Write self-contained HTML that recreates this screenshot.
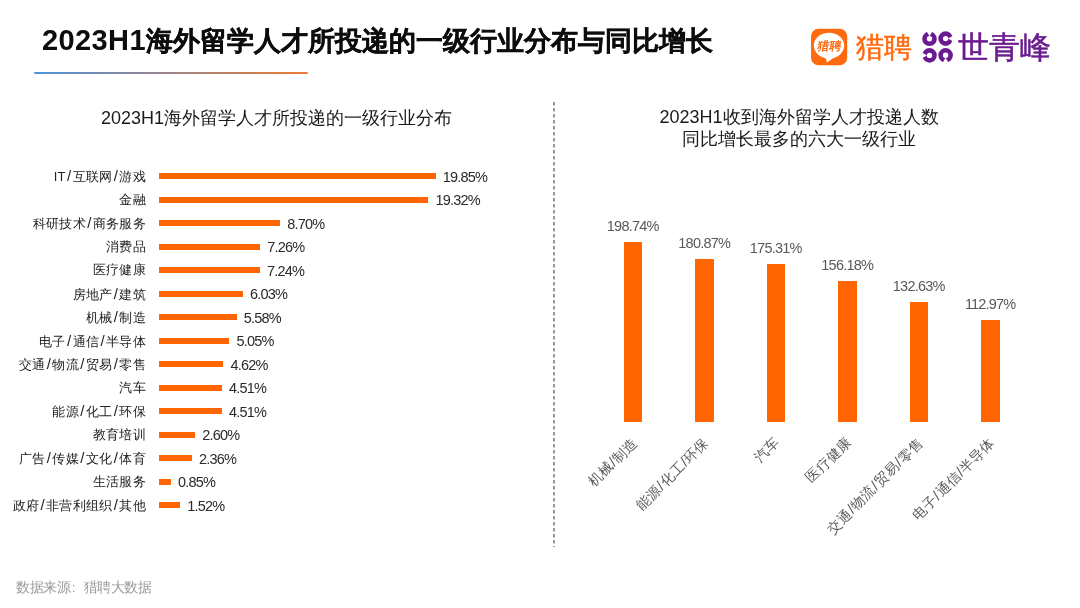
<!DOCTYPE html>
<html><head><meta charset="utf-8">
<style>
*{margin:0;padding:0;box-sizing:border-box}
#wrap{position:absolute;left:0;top:0;width:1080px;height:608px;will-change:transform}
html,body{width:1080px;height:608px;background:#fff;overflow:hidden;font-family:"Liberation Sans",sans-serif;color:#262626}
.abs{position:absolute;white-space:nowrap}
i{font-style:normal;font-size:15px;margin:0 1.2px}
#title{left:42px;top:21.5px;font-size:27px;font-weight:bold;color:#0d0d0d;line-height:36px}
#title b{font-size:29px;letter-spacing:0.4px}
#title span{-webkit-text-stroke:0.35px #0d0d0d}
#gline{left:34px;top:72px;width:274px;height:2.2px;border-radius:1.1px;background:linear-gradient(90deg,#4d90dc,#ef7a32)}
.lab{right:934px;font-size:13px;letter-spacing:0.3px;line-height:16px;color:#222;text-align:right}
.bar{left:159.4px;height:6px;background:#ff6600}
.val{font-size:14.5px;letter-spacing:-0.8px;line-height:16px;color:#2a2a2a}
#lt{left:0;width:553px;top:106.7px;text-align:center;font-size:18px;line-height:22px;color:#1a1a1a}
#rt{left:556px;width:486px;top:106px;text-align:center;font-size:18px;line-height:22px;color:#1a1a1a}
.vbar{width:18.5px;background:#ff6600}
.vval{font-size:14.5px;letter-spacing:-0.8px;line-height:16px;color:#595959;text-align:center;width:80px}
.rl{font-size:13.8px;letter-spacing:0.2px;line-height:16px;color:#595959;transform-origin:100% 50%;transform:rotate(-45deg)}
.rl i{margin:0 0.3px}
#src{left:16px;top:578.5px;font-size:13.5px;letter-spacing:-0.45px;color:#999;line-height:18px}
#lp{left:855.5px;top:29px;font-size:28px;line-height:38px;color:#ff6a0e;-webkit-text-stroke:0.5px #ff6a0e}
#sqf{left:957.5px;top:27px;font-size:31px;line-height:42px;color:#6a1b8f;-webkit-text-stroke:0.5px #6a1b8f}
</style></head><body><div id="wrap">
<div id="title" class="abs"><b>2023H1</b><span>海外留学人才所投递的一级行业分布与同比增长</span></div>
<div id="gline" class="abs"></div>
<div id="lt" class="abs">2023H1海外留学人才所投递的一级行业分布</div>
<div id="rt" class="abs">2023H1收到海外留学人才投递人数<br>同比增长最多的六大一级行业</div>
<svg class="abs" style="left:0;top:0" width="1080" height="608"><line x1="554" y1="102" x2="554" y2="547" stroke="#7a7a7a" stroke-width="1.5" stroke-dasharray="3.5 2.5"/></svg>
<div id="src" class="abs">数据来源<span style="margin:0 8.6px 0 1.5px">:</span>猎聘大数据</div>
<svg class="abs" style="left:800px;top:20px" width="270" height="55" viewBox="800 20 270 55">
<rect x="811" y="28.8" width="36.2" height="36.4" rx="7.5" fill="#ff6a0e"/>
<ellipse cx="829" cy="45.6" rx="15.2" ry="12.8" fill="#fff"/>
<path d="M825.5 57.5 L827 62.5 L837 55.5 Z" fill="#fff"/>
<text x="818" y="49.6" font-size="11.8" font-weight="bold" fill="#ff6a0e" transform="skewX(-9)" style="transform-origin:829px 46px">猎聘</text>
</svg>
<div class="abs" id="lp">猎聘</div>
<svg class="abs" style="left:900px;top:20px" width="70" height="50" viewBox="900 20 70 50"><path fill="#6a1b8f" fill-rule="evenodd" d="M936.8 38.8A7.3 7.3 0 1 0 922.2 38.8A7.3 7.3 0 1 0 936.8 38.8ZM932.2 38.8A2.7 2.7 0 1 0 926.8 38.8A2.7 2.7 0 1 0 932.2 38.8ZM952.9 38.6A7.3 7.3 0 1 0 938.3000000000001 38.6A7.3 7.3 0 1 0 952.9 38.6ZM948.3000000000001 38.6A2.7 2.7 0 1 0 942.9 38.6A2.7 2.7 0 1 0 948.3000000000001 38.6ZM936.8 55.4A7.3 7.3 0 1 0 922.2 55.4A7.3 7.3 0 1 0 936.8 55.4ZM932.2 55.4A2.7 2.7 0 1 0 926.8 55.4A2.7 2.7 0 1 0 932.2 55.4ZM952.9 55.3A7.3 7.3 0 1 0 938.3000000000001 55.3A7.3 7.3 0 1 0 952.9 55.3ZM948.3000000000001 55.3A2.7 2.7 0 1 0 942.9 55.3A2.7 2.7 0 1 0 948.3000000000001 55.3Z"/><path fill="#fff" d="M929.50 36.30L932.90 30.50L926.10 30.50ZM948.10 38.60L953.90 42.00L953.90 35.20ZM927.00 55.40L921.20 52.00L921.20 58.80ZM945.60 57.80L942.20 63.60L949.00 63.60Z"/></svg>
<div class="abs" id="sqf">世青峰</div>
<div id="chart"><div class="abs bar" style="top:173.2px;width:276.4px"></div>
<div class="abs lab" style="top:168.2px">IT<i>/</i>互联网<i>/</i>游戏</div>
<div class="abs val" style="top:168.7px;left:442.8px">19.85%</div>
<div class="abs bar" style="top:196.7px;width:269.0px"></div>
<div class="abs lab" style="top:191.7px">金融</div>
<div class="abs val" style="top:192.2px;left:435.4px">19.32%</div>
<div class="abs bar" style="top:220.2px;width:120.9px"></div>
<div class="abs lab" style="top:215.2px">科研技术<i>/</i>商务服务</div>
<div class="abs val" style="top:215.7px;left:287.3px">8.70%</div>
<div class="abs bar" style="top:243.7px;width:100.9px"></div>
<div class="abs lab" style="top:238.7px">消费品</div>
<div class="abs val" style="top:239.2px;left:267.3px">7.26%</div>
<div class="abs bar" style="top:267.2px;width:100.6px"></div>
<div class="abs lab" style="top:262.2px">医疗健康</div>
<div class="abs val" style="top:262.7px;left:267.0px">7.24%</div>
<div class="abs bar" style="top:290.7px;width:83.7px"></div>
<div class="abs lab" style="top:285.7px">房地产<i>/</i>建筑</div>
<div class="abs val" style="top:286.2px;left:250.1px">6.03%</div>
<div class="abs bar" style="top:314.2px;width:77.4px"></div>
<div class="abs lab" style="top:309.2px">机械<i>/</i>制造</div>
<div class="abs val" style="top:309.7px;left:243.8px">5.58%</div>
<div class="abs bar" style="top:337.7px;width:70.0px"></div>
<div class="abs lab" style="top:332.7px">电子<i>/</i>通信<i>/</i>半导体</div>
<div class="abs val" style="top:333.2px;left:236.4px">5.05%</div>
<div class="abs bar" style="top:361.2px;width:64.1px"></div>
<div class="abs lab" style="top:356.2px">交通<i>/</i>物流<i>/</i>贸易<i>/</i>零售</div>
<div class="abs val" style="top:356.7px;left:230.5px">4.62%</div>
<div class="abs bar" style="top:384.7px;width:62.5px"></div>
<div class="abs lab" style="top:379.7px">汽车</div>
<div class="abs val" style="top:380.2px;left:228.9px">4.51%</div>
<div class="abs bar" style="top:408.2px;width:62.5px"></div>
<div class="abs lab" style="top:403.2px">能源<i>/</i>化工<i>/</i>环保</div>
<div class="abs val" style="top:403.7px;left:228.9px">4.51%</div>
<div class="abs bar" style="top:431.7px;width:35.9px"></div>
<div class="abs lab" style="top:426.7px">教育培训</div>
<div class="abs val" style="top:427.2px;left:202.3px">2.60%</div>
<div class="abs bar" style="top:455.2px;width:32.5px"></div>
<div class="abs lab" style="top:450.2px">广告<i>/</i>传媒<i>/</i>文化<i>/</i>体育</div>
<div class="abs val" style="top:450.7px;left:198.9px">2.36%</div>
<div class="abs bar" style="top:478.7px;width:11.5px"></div>
<div class="abs lab" style="top:473.7px">生活服务</div>
<div class="abs val" style="top:474.2px;left:177.9px">0.85%</div>
<div class="abs bar" style="top:502.2px;width:20.8px"></div>
<div class="abs lab" style="top:497.2px">政府<i>/</i>非营利组织<i>/</i>其他</div>
<div class="abs val" style="top:497.7px;left:187.2px">1.52%</div>
<div class="abs vbar" style="left:623.5px;top:242.3px;height:179.7px"></div>
<div class="abs vval" style="left:592.7px;top:218.3px">198.74%</div>
<div class="abs rl" style="right:445.3px;top:431.5px">机械<i>/</i>制造</div>
<div class="abs vbar" style="left:695.0px;top:258.5px;height:163.5px"></div>
<div class="abs vval" style="left:664.2px;top:234.5px">180.87%</div>
<div class="abs rl" style="right:373.8px;top:431.5px">能源<i>/</i>化工<i>/</i>环保</div>
<div class="abs vbar" style="left:766.5px;top:263.5px;height:158.5px"></div>
<div class="abs vval" style="left:735.7px;top:239.5px">175.31%</div>
<div class="abs rl" style="right:302.3px;top:431.5px">汽车</div>
<div class="abs vbar" style="left:838.0px;top:280.8px;height:141.2px"></div>
<div class="abs vval" style="left:807.2px;top:256.8px">156.18%</div>
<div class="abs rl" style="right:230.8px;top:431.5px">医疗健康</div>
<div class="abs vbar" style="left:909.5px;top:302.1px;height:119.9px"></div>
<div class="abs vval" style="left:878.7px;top:278.1px">132.63%</div>
<div class="abs rl" style="right:159.3px;top:431.5px">交通<i>/</i>物流<i>/</i>贸易<i>/</i>零售</div>
<div class="abs vbar" style="left:981.0px;top:319.9px;height:102.1px"></div>
<div class="abs vval" style="left:950.2px;top:295.9px">112.97%</div>
<div class="abs rl" style="right:87.8px;top:431.5px">电子<i>/</i>通信<i>/</i>半导体</div></div>
</div></body></html>
